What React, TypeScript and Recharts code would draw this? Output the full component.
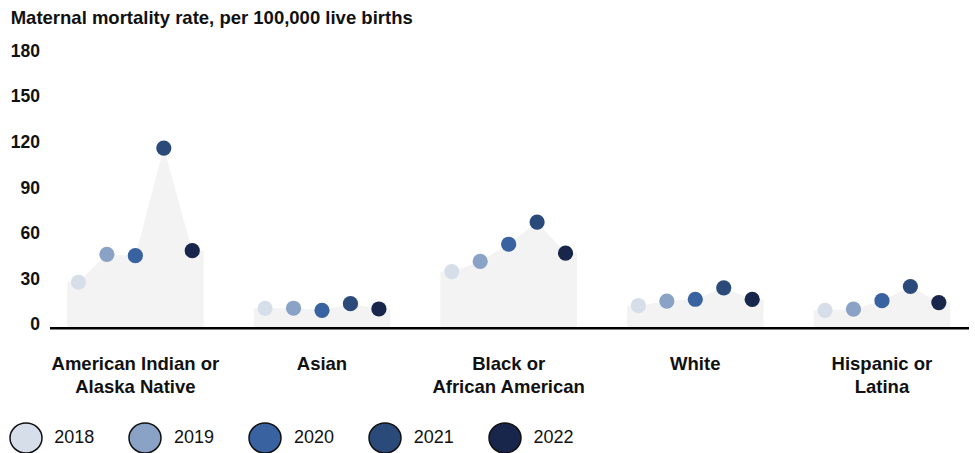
import { ComposedChart, Area, Scatter, XAxis, YAxis, Legend } from 'recharts';

const categories = [
  'American Indian or\nAlaska Native',
  'Asian',
  'Black or\nAfrican American',
  'White',
  'Hispanic or\nLatina',
];

const years = ['2018', '2019', '2020', '2021', '2022'];

// maternal deaths per 100,000 live births, one entry per category
const rate2018 = [30.3, 13.1, 37.3, 14.9, 11.8];
const rate2019 = [48.7, 13.2, 44.0, 17.9, 12.6];
const rate2020 = [47.8, 11.8, 55.3, 19.1, 18.2];
const rate2021 = [118.6, 16.2, 69.9, 26.6, 27.5];
const rate2022 = [51.1, 12.7, 49.5, 19.0, 16.9];

const yearColors = ['#d6dee9', '#8aa2c6', '#3862a0', '#2a4a7a', '#17264a'];
const yTicks = [0, 30, 60, 90, 120, 150, 180];

const series = [rate2018, rate2019, rate2020, rate2021, rate2022];

const FONT = "'Liberation Sans', Arial, sans-serif";

// x is measured in dot steps; groups sit GROUP_STEP apart
const GROUP_STEP = 6.56;
const BAND_PAD = 0.4;
const xOf = (g: number, i: number) => g * GROUP_STEP + i - 2;
const groupCenters = categories.map((_, g) => xOf(g, 2));

// grey backdrop per category: flat shoulders, peaks through each dot, null row to split groups
const bandRows = categories.flatMap((_, g) => {
  const vals = series.map((s) => s[g]);
  return [
    { x: xOf(g, 0) - BAND_PAD, band: vals[0] },
    ...vals.map((v, i) => ({ x: xOf(g, i), band: v })),
    { x: xOf(g, 4) + BAND_PAD, band: vals[4] },
    { x: xOf(g, 4) + BAND_PAD + 0.5, band: null },
  ];
});

const yearPoints = series.map((s, yi) =>
  categories.map((_, g) => ({ x: xOf(g, yi), rate: s[g] }))
);

const YTick = ({ x, y, payload }: any) => (
  <text
    x={x}
    y={y - 4}
    textAnchor="end"
    dominantBaseline="central"
    fontFamily={FONT}
    fontSize={17.5}
    fontWeight={700}
    fill="#111"
  >
    {payload.value}
  </text>
);

const XTick = ({ x, y, payload }: any) => {
  const idx = groupCenters.findIndex((c) => Math.abs(c - payload.value) < 1e-6);
  const lines = idx >= 0 ? categories[idx].split('\n') : [];
  return (
    <g>
      {lines.map((line, i) => (
        <text
          key={i}
          x={x}
          y={y + 35 + i * 22.8}
          textAnchor="middle"
          dominantBaseline="central"
          fontFamily={FONT}
          fontSize={18.5}
          fontWeight={700}
          fill="#111"
        >
          {line}
        </text>
      ))}
    </g>
  );
};

const renderLegend = () => (
  <div style={{ display: 'flex', fontFamily: FONT }}>
    {years.map((yr, i) => (
      <div key={yr} style={{ display: 'flex', alignItems: 'center', width: 119.8 }}>
        <svg width={34} height={32} style={{ display: 'block' }}>
          <ellipse cx={17} cy={16} rx={16} ry={15} fill={yearColors[i]} stroke="#111" strokeWidth={1.5} />
        </svg>
        <span style={{ marginLeft: 11.6, fontSize: 18, color: '#111' }}>{yr}</span>
      </div>
    ))}
  </div>
);

export default function App() {
  return (
    <div style={{ position: 'absolute', left: 0, top: 0, width: 975, height: 453, background: '#fff' }}>
      <div
        style={{
          position: 'absolute',
          left: 10.7,
          top: 7,
          fontFamily: FONT,
          fontSize: 18.5,
          fontWeight: 700,
          lineHeight: '21px',
          color: '#111',
          whiteSpace: 'nowrap',
        }}
      >
        Maternal mortality rate, per 100,000 live births
      </div>
      <ComposedChart
        width={975}
        height={453}
        data={bandRows}
        margin={{ top: 54.7, right: 6, bottom: 64.7, left: 0 }}
      >
        <XAxis
          type="number"
          dataKey="x"
          domain={[-3, 29.3]}
          ticks={groupCenters}
          interval={0}
          axisLine={{ stroke: '#000', strokeWidth: 2.5 }}
          tickLine={false}
          tickSize={0}
          tickMargin={0}
          height={60}
          tick={<XTick />}
        />
        <YAxis
          type="number"
          domain={[0, 180]}
          ticks={yTicks}
          interval={0}
          axisLine={false}
          tickLine={false}
          tickSize={0}
          tickMargin={10}
          width={50}
          tick={<YTick />}
        />
        <Area
          type="linear"
          dataKey="band"
          stroke="none"
          fill="#f3f3f3"
          fillOpacity={1}
          dot={false}
          activeDot={false}
          legendType="none"
          isAnimationActive={false}
        />
        {years.map((yr, yi) => (
          <Scatter
            key={yr}
            name={yr}
            data={yearPoints[yi]}
            dataKey="rate"
            fill={yearColors[yi]}
            isAnimationActive={false}
            shape={(p: any) => <circle cx={p.cx} cy={p.cy} r={7.6} fill={yearColors[yi]} />}
          />
        ))}
        <Legend
          layout="horizontal"
          align="center"
          verticalAlign="middle"
          content={renderLegend}
          wrapperStyle={{ left: 8.7, top: 421.5, width: 'auto', height: 'auto' }}
        />
      </ComposedChart>
    </div>
  );
}
